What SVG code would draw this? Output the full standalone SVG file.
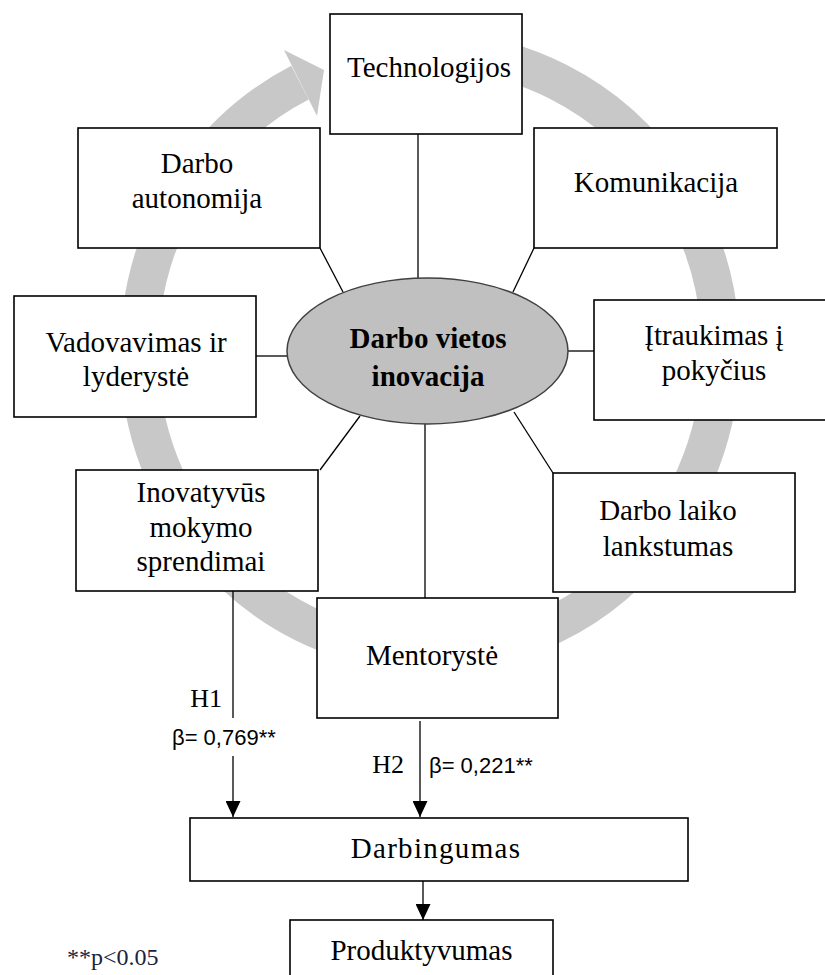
<svg xmlns="http://www.w3.org/2000/svg" width="825" height="975" viewBox="0 0 825 975">
<defs>
<style>
.box{fill:#fff;stroke:#000;stroke-width:1.6}
.t{font-family:"Liberation Serif","Times New Roman",serif;font-size:29px;fill:#000;text-anchor:middle}
.tb{font-family:"Liberation Serif","Times New Roman",serif;font-size:29px;font-weight:bold;fill:#000;text-anchor:middle}
.ln{stroke:#000;stroke-width:1.3;fill:none}
.hl{font-family:"Liberation Serif","Times New Roman",serif;font-size:26px;fill:#000}
.bl{font-family:"Liberation Sans",Arial,sans-serif;font-size:22px;fill:#000}
</style>
<marker id="ah" markerUnits="userSpaceOnUse" markerWidth="16" markerHeight="15" refX="16" refY="7.5" orient="auto">
<path d="M0,0 L16,7.5 L0,15 z" fill="#000"/>
</marker>
</defs>
<rect width="825" height="975" fill="#fff"/>
<g id="cycle-arrow">
<path d="M 430 51 A 291 301 0 1 1 300 82.7" fill="none" stroke="#c8c8c8" stroke-width="38"/>
<polygon points="284,50 317,116 324,70" fill="#c8c8c8"/>
</g>
<g id="connectors">
<line class="ln" x1="418" y1="134" x2="418" y2="278"/>
<line class="ln" x1="320" y1="248" x2="343" y2="292"/>
<line class="ln" x1="534" y1="248" x2="513" y2="292"/>
<line class="ln" x1="256" y1="356" x2="287" y2="356"/>
<line class="ln" x1="568" y1="351" x2="594" y2="351"/>
<line class="ln" x1="360" y1="416" x2="320" y2="470"/>
<line class="ln" x1="514" y1="412" x2="553" y2="473"/>
<line class="ln" x1="425" y1="424" x2="425" y2="598"/>
<line class="ln" x1="233" y1="591" x2="233" y2="718"/>
<line class="ln" x1="233" y1="756" x2="233" y2="817" marker-end="url(#ah)"/>
<line class="ln" x1="420" y1="721" x2="420" y2="817" marker-end="url(#ah)"/>
<line class="ln" x1="423" y1="881" x2="423" y2="920" marker-end="url(#ah)"/>
<text class="hl" x="222" y="707" text-anchor="end">H1</text>
<text class="bl" x="172" y="745">β= 0,769**</text>
<text class="hl" x="404" y="773" text-anchor="end">H2</text>
<text class="bl" x="429" y="773">β= 0,221**</text>
</g>
<g id="technologijos">
<rect class="box" x="330" y="14" width="192" height="120"/>
<text class="t" x="429" y="77">Technologijos</text>
</g>
<g id="darbo-autonomija">
<rect class="box" x="78" y="128" width="242" height="120"/>
<text class="t" x="197" y="173">Darbo</text>
<text class="t" x="197" y="208">autonomija</text>
</g>
<g id="komunikacija">
<rect class="box" x="534" y="128" width="243" height="120"/>
<text class="t" x="656" y="192">Komunikacija</text>
</g>
<g id="vadovavimas">
<rect class="box" x="14" y="296" width="242" height="121"/>
<text class="t" x="136" y="352">Vadovavimas ir</text>
<text class="t" x="136" y="386">lyderystė</text>
</g>
<g id="darbo-vietos-inovacija">
<ellipse cx="427.5" cy="351" rx="140.5" ry="73" fill="#c0c0c0" stroke="#404040" stroke-width="1.5"/>
<text class="tb" x="428" y="348">Darbo vietos</text>
<text class="tb" x="428" y="386">inovacija</text>
</g>
<g id="itraukimas">
<rect class="box" x="594" y="300" width="242" height="120"/>
<text class="t" x="714" y="345">Įtraukimas į</text>
<text class="t" x="714" y="380">pokyčius</text>
</g>
<g id="inovatyvus-mokymo">
<rect class="box" x="76" y="470" width="242" height="121"/>
<text class="t" x="201" y="502">Inovatyvūs</text>
<text class="t" x="201" y="537">mokymo</text>
<text class="t" x="201" y="571">sprendimai</text>
</g>
<g id="darbo-laiko">
<rect class="box" x="553" y="473" width="242" height="119"/>
<text class="t" x="668" y="520">Darbo laiko</text>
<text class="t" x="668" y="556">lankstumas</text>
</g>
<g id="mentoryste">
<rect class="box" x="317" y="598" width="241" height="120"/>
<text class="t" x="432" y="665">Mentorystė</text>
</g>
<g id="darbingumas">
<rect class="box" x="190" y="818" width="498" height="63"/>
<text class="t" x="436" y="858" letter-spacing="1.3">Darbingumas</text>
</g>
<g id="produktyvumas">
<rect class="box" x="290" y="920" width="263" height="70"/>
<text class="t" x="421.5" y="960">Produktyvumas</text>
</g>
<g id="note">
<text x="67" y="965" font-family="Liberation Serif, Times New Roman, serif" font-size="24" fill="#1c2340">**p&lt;0.05</text>
</g>
</svg>
